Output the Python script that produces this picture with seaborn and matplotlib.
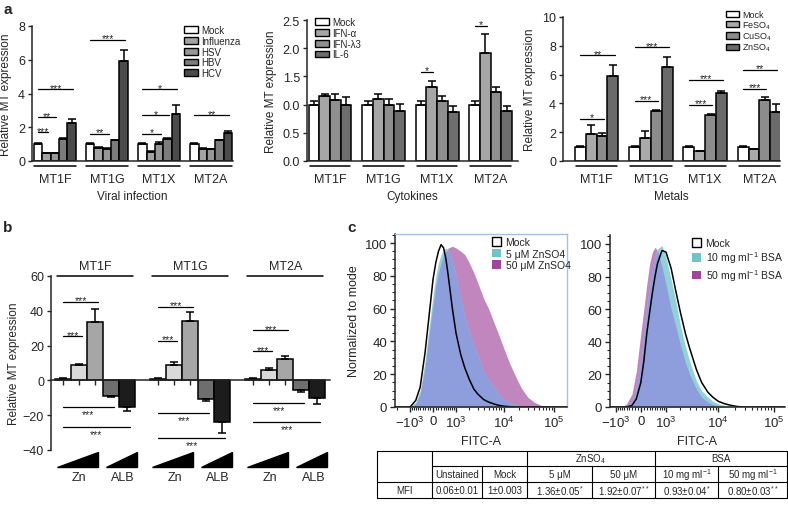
import numpy as np
import pandas as pd
import matplotlib
matplotlib.use("Agg")
import matplotlib.pyplot as plt
from matplotlib.patches import Patch, Polygon
from matplotlib.ticker import FixedLocator, MultipleLocator
from matplotlib.transforms import blended_transform_factory, offset_copy
import seaborn as sns

# ---------------- panel a ----------------
genes_a = ["MT1F", "MT1G", "MT1X", "MT2A"]

viral_conds = ["Mock", "Influenza", "HSV", "HBV", "HCV"]
viral_vals = [[1.00, 0.45, 0.45, 1.30, 2.25],
              [1.00, 0.78, 0.72, 1.22, 5.90],
              [1.00, 0.52, 1.00, 1.28, 2.78],
              [1.00, 0.70, 0.70, 1.22, 1.68]]
viral_errs = [[0.07, 0.03, 0.03, 0.05, 0.25],
              [0.07, 0.05, 0.03, 0.05, 0.70],
              [0.05, 0.08, 0.12, 0.07, 0.55],
              [0.05, 0.05, 0.03, 0.03, 0.10]]
# (gene, condition compared with Mock, height, label)
viral_sig = [(0, 1, 1.7, "***"), (0, 2, 2.6, "**"), (0, 4, 4.25, "***"),
             (1, 2, 1.6, "**"), (1, 4, 7.2, "***"),
             (2, 2, 1.6, "*"), (2, 3, 2.7, "*"), (2, 4, 4.25, "*"),
             (3, 4, 2.7, "**")]

cyto_conds = ["Mock", "IFN-α", "IFN-λ3", "IL-6"]
cyto_vals = [[1.00, 1.15, 1.09, 0.99],
             [1.00, 1.10, 0.99, 0.88],
             [1.00, 1.32, 1.06, 0.86],
             [1.00, 1.91, 1.22, 0.88]]
cyto_errs = [[0.065, 0.03, 0.09, 0.14],
             [0.065, 0.08, 0.11, 0.13],
             [0.065, 0.10, 0.10, 0.12],
             [0.065, 0.34, 0.09, 0.10]]
cyto_sig = [(2, 1, 1.58, "*"), (3, 1, 2.4, "*")]
cyto_ticks = [0, 0.5, 1.0, 1.5, 2.0, 2.5]
cyto_ticklabels = ["0.0", "0.5", "0.0", "1.5", "2.0", "2.5"]  # as printed in the original

metal_conds = ["Mock", "FeSO$_4$", "CuSO$_4$", "ZnSO$_4$"]
metal_vals = [[1.00, 1.90, 1.71, 5.90],
              [1.00, 1.62, 3.45, 6.55],
              [1.00, 0.67, 3.19, 4.70],
              [1.00, 0.80, 4.21, 3.40]]
metal_errs = [[0.06, 0.62, 0.26, 0.79],
              [0.06, 0.44, 0.12, 0.67],
              [0.06, 0.05, 0.09, 0.18],
              [0.06, 0.04, 0.26, 0.58]]
metal_sig = [(0, 2, 2.94, "*"), (0, 3, 7.34, "**"),
             (1, 2, 4.2, "***"), (1, 3, 7.9, "***"),
             (2, 2, 3.9, "***"), (2, 3, 5.65, "***"),
             (3, 2, 5.0, "***"), (3, 3, 6.35, "**")]

# ---------------- panel b ----------------
genes_b = ["MT1F", "MT1G", "MT2A"]
dose_levels = ["Control", "Zn low", "Zn high", "ALB low", "ALB high"]
b_vals = [[1.0, 8.7, 33.5, -9.2, -15.0],
          [1.0, 9.0, 34.4, -10.6, -23.8],
          [1.0, 5.8, 12.5, -5.8, -10.4]]
b_errs = [[0.3, 0.8, 7.7, 0.6, 2.3],
          [0.3, 1.3, 4.8, 1.5, 6.5],
          [0.3, 1.3, 1.5, 0.8, 2.9]]
b_sig = [(0, 1, 25.4, "***"), (0, 2, 45.0, "***"), (0, 3, -15.4, "***"), (0, 4, -26.5, "***"),
         (1, 1, 22.9, "***"), (1, 2, 42.3, "***"), (1, 3, -18.8, "***"), (1, 4, -33.3, "***"),
         (2, 1, 16.7, "***"), (2, 2, 28.8, "***"), (2, 3, -12.9, "***"), (2, 4, -24.0, "***")]

# ---------------- panel c (FITC-A histograms, % of mode) ----------------
flow_x = [-2200, -1000, -700, -500, -300, -150, 0, 100, 200, 300, 400, 500, 600, 800,
          1000, 1300, 1600, 2000, 2500, 3000, 4000, 5000, 6500, 8000, 10000, 13000,
          17000, 22000, 30000, 40000, 55000, 80000, 180000]
zn_mock = [0, 0, 4, 12, 33, 55, 78, 88, 95, 99, 97, 90, 80, 60, 45, 32, 24, 17, 11, 8,
           4.5, 3, 1.8, 1, 0.5, 0.2, 0, 0, 0, 0, 0, 0, 0]
zn_5uM = [0, 0, 3, 10, 28, 48, 68, 80, 88, 93, 96, 97, 96, 90, 80, 66, 55, 46, 38, 32,
          22, 17, 12, 8, 5, 3, 1.5, 0.5, 0, 0, 0, 0, 0]
zn_50uM = [0, 0, 2, 8, 24, 44, 62, 74, 82, 88, 92, 95, 97, 98, 97, 95, 93, 88, 82, 76,
           66, 60, 51, 44, 36, 27, 19, 12, 6, 3, 1, 0, 0]
bsa_mock = [0, 0, 0, 0, 1, 5, 15, 28, 45, 58, 70, 80, 88, 96, 95, 85, 72, 58, 45, 36,
            23, 15, 9, 6, 3.5, 2, 1, 0.3, 0, 0, 0, 0, 0]
bsa_10 = [0, 0, 0, 0, 3, 12, 28, 45, 62, 74, 85, 92, 97, 99, 92, 78, 66, 50, 37, 28,
          16, 10, 6, 3.5, 2, 1, 0.3, 0, 0, 0, 0, 0, 0]
bsa_50 = [0, 0, 0, 2, 8, 22, 45, 60, 75, 88, 95, 98, 96, 86, 75, 60, 50, 38, 27, 20,
          11, 6, 3, 1.5, 0.5, 0, 0, 0, 0, 0, 0, 0, 0]
flow_ticks = [-1000, 0, 1000, 10000, 100000]
flow_ticklabels = [r"$-10^3$", "0", r"$10^3$", r"$10^4$", r"$10^5$"]

table_groups = ["ZnSO$_4$", "BSA"]
table_cols = ["Unstained", "Mock", "5 μM", "50 μM", "10 mg ml$^{-1}$", "50 mg ml$^{-1}$"]
table_mfi = ["0.06±0.01", "1±0.003", "1.36±0.05$^{*}$", "1.92±0.07$^{**}$",
             "0.93±0.04$^{*}$", "0.80±0.03$^{**}$"]

# ---------------- style ----------------
sns.set_theme(style="ticks")
plt.rcParams["font.family"] = ["Liberation Sans", "DejaVu Sans"]
plt.rcParams["mathtext.fontset"] = "custom"
plt.rcParams["mathtext.rm"] = "Liberation Sans"
plt.rcParams["mathtext.it"] = "Liberation Sans:italic"
plt.rcParams["mathtext.bf"] = "Liberation Sans:bold"
plt.rcParams["axes.linewidth"] = 1.1
plt.rcParams["xtick.major.width"] = 1.0
plt.rcParams["ytick.major.width"] = 1.0
plt.rcParams["xtick.labelsize"] = 9
plt.rcParams["ytick.labelsize"] = 9
plt.rcParams["axes.labelsize"] = 8.5

W, H = 788, 506
fig = plt.figure(figsize=(W / 100, H / 100), dpi=100)


def px_axes(l, t, r, b):
    return fig.add_axes([l / W, 1 - b / H, (r - l) / W, (b - t) / H])


def bar_panel(ax, genes, conds, vals, errs, colors, width):
    df = pd.DataFrame([(g, c, vals[i][j]) for i, g in enumerate(genes)
                       for j, c in enumerate(conds)], columns=["gene", "cond", "value"])
    sns.barplot(data=df, x="gene", y="value", hue="cond", order=genes, hue_order=conds,
                palette=colors, width=width, saturation=1, edgecolor="black",
                linewidth=1.1, errorbar=None, legend=False, ax=ax)
    centers = np.zeros((len(genes), len(conds)))
    for j, cont in enumerate(ax.containers):
        for bar in cont:
            cx = bar.get_x() + bar.get_width() / 2
            centers[int(round(cx)), j] = cx
    for i in range(len(genes)):
        for j in range(len(conds)):
            v, e = vals[i][j], errs[i][j]
            yerr = [[0], [e]] if v >= 0 else [[e], [0]]
            ax.errorbar(centers[i, j], v, yerr=yerr, fmt="none", ecolor="black",
                        elinewidth=1.1, capsize=2.8, capthick=1.1)
    ax.set_xlabel("")
    ax.set_ylabel("Relative MT expression")
    return centers


def add_sig(ax, centers, sig, fs=7.5):
    for g, h, y, lab in sig:
        x0, x1 = centers[g, 0], centers[g, h] + 0.03
        ax.plot([x0, x1], [y, y], color="black", lw=0.9, clip_on=False)
        if y >= 0:
            ax.annotate(lab, ((x0 + x1) / 2, y), xytext=(0, -2.5), textcoords="offset points",
                        ha="center", va="bottom", fontsize=fs)
        else:
            ax.annotate(lab, ((x0 + x1) / 2, y), xytext=(0, -1.5), textcoords="offset points",
                        ha="center", va="top", fontsize=fs)


def group_lines(ax, n, half=0.4, drop=5):
    tr = offset_copy(blended_transform_factory(ax.transData, ax.transAxes), fig=fig,
                     y=-drop, units="dots")
    for i in range(n):
        ax.plot([i - half, i + half], [0, 0], color="black", lw=1.1,
                transform=tr, clip_on=False)


def bar_legend(ax, labels, colors, x, y, fs=7, spacing=0.08):
    handles = [Patch(facecolor=c, edgecolor="black", linewidth=1.0) for c in colors]
    ax.legend(handles, labels, loc="upper left", bbox_to_anchor=(x / W, 1 - y / H),
              bbox_transform=fig.transFigure, frameon=False, fontsize=fs,
              handlelength=1.4, handleheight=0.7, handletextpad=0.35,
              labelspacing=spacing, borderpad=0, borderaxespad=0)


def style_a(ax, ylim, xlim, xlabel):
    sns.despine(ax=ax)
    ax.set_ylim(*ylim)
    ax.set_xlim(*xlim)
    ax.tick_params(axis="x", length=0, pad=9)
    ax.tick_params(axis="y", length=3, pad=2)
    ax.set_xlabel(xlabel, labelpad=3)


# a: viral infection
viral_colors = ["#ffffff", "#a3a3a3", "#979797", "#7c7c7c", "#4b4b4b"]
ax1 = px_axes(32, 27, 233, 162)
c1 = bar_panel(ax1, genes_a, viral_conds, viral_vals, viral_errs, viral_colors, 0.8)
style_a(ax1, (0, 8), (-0.44, 3.42), "Viral infection")
ax1.set_yticks([0, 2, 4, 6, 8])
add_sig(ax1, c1, viral_sig)
group_lines(ax1, 4)
bar_legend(ax1, viral_conds, viral_colors, 184, 26)

# a: cytokines
cyto_colors = ["#ffffff", "#a6a6a6", "#8f8f8f", "#6e6e6e"]
ax2 = px_axes(307, 21, 518, 162)
c2 = bar_panel(ax2, genes_a, cyto_conds, cyto_vals, cyto_errs, cyto_colors, 0.8)
style_a(ax2, (0, 2.5), (-0.43, 3.51), "Cytokines")
ax2.set_yticks(cyto_ticks)
ax2.set_yticklabels(cyto_ticklabels)
add_sig(ax2, c2, cyto_sig)
group_lines(ax2, 4, half=0.38)
bar_legend(ax2, cyto_conds, cyto_colors, 315, 18)

# a: metals
metal_colors = ["#ffffff", "#aaaaaa", "#8c8c8c", "#6a6a6a"]
ax3 = px_axes(563, 18, 780, 162)
c3 = bar_panel(ax3, genes_a, metal_conds, metal_vals, metal_errs, metal_colors, 0.8)
style_a(ax3, (0, 10), (-0.62, 3.38), "Metals")
ax3.set_yticks([0, 2, 4, 6, 8, 10])
add_sig(ax3, c3, metal_sig)
group_lines(ax3, 4, half=0.38)
bar_legend(ax3, metal_conds, metal_colors, 726, 11, fs=6.5, spacing=0.0)

# ---------------- b ----------------
dose_colors = ["#ffffff", "#d9d9d9", "#a6a6a6", "#6e6e6e", "#1c1c1c"]
axb = px_axes(51, 277, 330, 451)
cb = bar_panel(axb, genes_b, dose_levels, b_vals, b_errs, dose_colors, 0.84)
sns.despine(ax=axb)
axb.set_ylim(-40, 60)
axb.set_xlim(-0.463, 2.47)
axb.set_yticks([-40, -20, 0, 20, 40, 60])
axb.spines["bottom"].set_position(("data", 0))
axb.set_xticks(cb.flatten())
axb.set_xticklabels([])
axb.tick_params(axis="x", length=3.5, direction="out")
axb.tick_params(axis="y", length=3, pad=2)
axb.set_ylabel("Relative MT expression", labelpad=2)
add_sig(axb, cb, b_sig)
for i, g in enumerate(genes_b):
    axb.plot([i - 0.4, i + 0.4], [60, 60], color="black", lw=1.1, clip_on=False)
    axb.text(i, 66, g, ha="center", va="center", fontsize=9)
    for x0, x1, lab in [(i - 0.40, i + 0.03, "Zn"), (i + 0.11, i + 0.44, "ALB")]:
        axb.add_patch(Polygon([(x0, -50), (x1, -50), (x1, -41.4)], closed=True,
                              facecolor="black", edgecolor="black", clip_on=False))
        axb.text((x0 + x1) / 2 + 0.02, -55.5, lab, ha="center", va="center", fontsize=9)

# ---------------- c ----------------
purple_fill, cyan_fill, blue_fill = "#c286bf", "#90d2d8", "#8e9ddb"


def flow_panel(ax, mock, low, high, labels, legend_xy, xlim):
    ax.fill_between(flow_x, high, color=purple_fill, lw=0)
    ax.fill_between(flow_x, low, color=cyan_fill, lw=0)
    ax.fill_between(flow_x, np.minimum(low, high), color=blue_fill, lw=0)
    sns.lineplot(x=flow_x, y=mock, color="black", lw=1.1, estimator=None, ax=ax)
    ax.set_xscale("asinh", linear_width=800)
    ax.set_xlim(*xlim)
    ax.set_ylim(0, 105.5)
    ax.xaxis.set_major_locator(FixedLocator(flow_ticks))
    ax.set_xticklabels(flow_ticklabels)
    minors = ([-k * 100 for k in range(1, 10)] + [k * 100 for k in range(1, 10)]
              + [k * 1000 for k in range(2, 10)] + [k * 10000 for k in range(2, 10)]
              + [-2000])
    ax.xaxis.set_minor_locator(FixedLocator(minors))
    ax.set_yticks([0, 20, 40, 60, 80, 100])
    ax.yaxis.set_minor_locator(MultipleLocator(5))
    ax.tick_params(axis="both", which="major", length=3.5, labelsize=9.5, pad=2)
    ax.tick_params(axis="both", which="minor", length=2, width=0.8)
    ax.set_xlabel("FITC-A", fontsize=9, labelpad=4)
    handles = [Patch(facecolor="white", edgecolor="black", linewidth=1.0),
               Patch(facecolor="#6fc4c8", edgecolor="none"),
               Patch(facecolor="#a1459c", edgecolor="none")]
    ax.legend(handles, labels, loc="upper left",
              bbox_to_anchor=(legend_xy[0] / W, 1 - legend_xy[1] / H),
              bbox_transform=fig.transFigure, frameon=False, fontsize=7.5,
              handlelength=0.9, handleheight=0.9, handletextpad=0.4,
              labelspacing=0.15, borderpad=0, borderaxespad=0)


axc1 = px_axes(395, 235, 567, 408)
flow_panel(axc1, zn_mock, zn_5uM, zn_50uM,
           ["Mock", "5 μM ZnSO4", "50 μM ZnSO4"], (492, 238), (-2200, 180000))
axc1.set_ylabel("Normalized to mode", fontsize=9, labelpad=4)
for s in ["top", "right"]:
    axc1.spines[s].set_color("#a9bfe2")
    axc1.spines[s].set_linewidth(1.0)

axc2 = px_axes(610, 236, 785, 408)
flow_panel(axc2, bsa_mock, bsa_10, bsa_50,
           ["Mock", "10 mg ml$^{-1}$ BSA", "50 mg ml$^{-1}$ BSA"], (692, 239),
           (-1330, 161000))
axc2.set_ylabel("")
sns.despine(ax=axc2)

# ---------------- MFI table ----------------
tab = fig.add_axes([0, 0, 1, 1])
tab.set_xlim(0, W)
tab.set_ylim(H, 0)
tab.set_axis_off()
tab.patch.set_visible(False)
col_x = [377, 432, 482, 527, 592, 655, 718, 787]
lw = 0.8
tab.plot([377, 787, 787, 377, 377], [452, 452, 499, 499, 452], color="black", lw=lw)
tab.plot([432, 787], [467, 467], color="black", lw=lw)
tab.plot([377, 787], [483, 483], color="black", lw=lw)
for x in [432, 527, 655]:
    tab.plot([x, x], [452, 499], color="black", lw=lw)
for x in [482, 592, 718]:
    tab.plot([x, x], [467, 499], color="black", lw=lw)
tfs = 7
tab.text((527 + 655) / 2, 459.5, table_groups[0], ha="center", va="center", fontsize=tfs)
tab.text((655 + 787) / 2, 459.5, table_groups[1], ha="center", va="center", fontsize=tfs)
tab.text((377 + 432) / 2, 491, "MFI", ha="center", va="center", fontsize=tfs)
for k in range(6):
    xm = (col_x[k + 1] + col_x[k + 2]) / 2
    tab.text(xm, 475, table_cols[k], ha="center", va="center", fontsize=tfs)
    tab.text(xm, 491, table_mfi[k], ha="center", va="center", fontsize=tfs)

# panel letters
fig.text(3 / W, 1 - 3 / H, "a", fontsize=11, fontweight="bold", va="top")
fig.text(3 / W, 1 - 221 / H, "b", fontsize=11, fontweight="bold", va="top")
fig.text(347 / W, 1 - 221 / H, "c", fontsize=11, fontweight="bold", va="top")

fig.savefig("out.png", dpi=100)
